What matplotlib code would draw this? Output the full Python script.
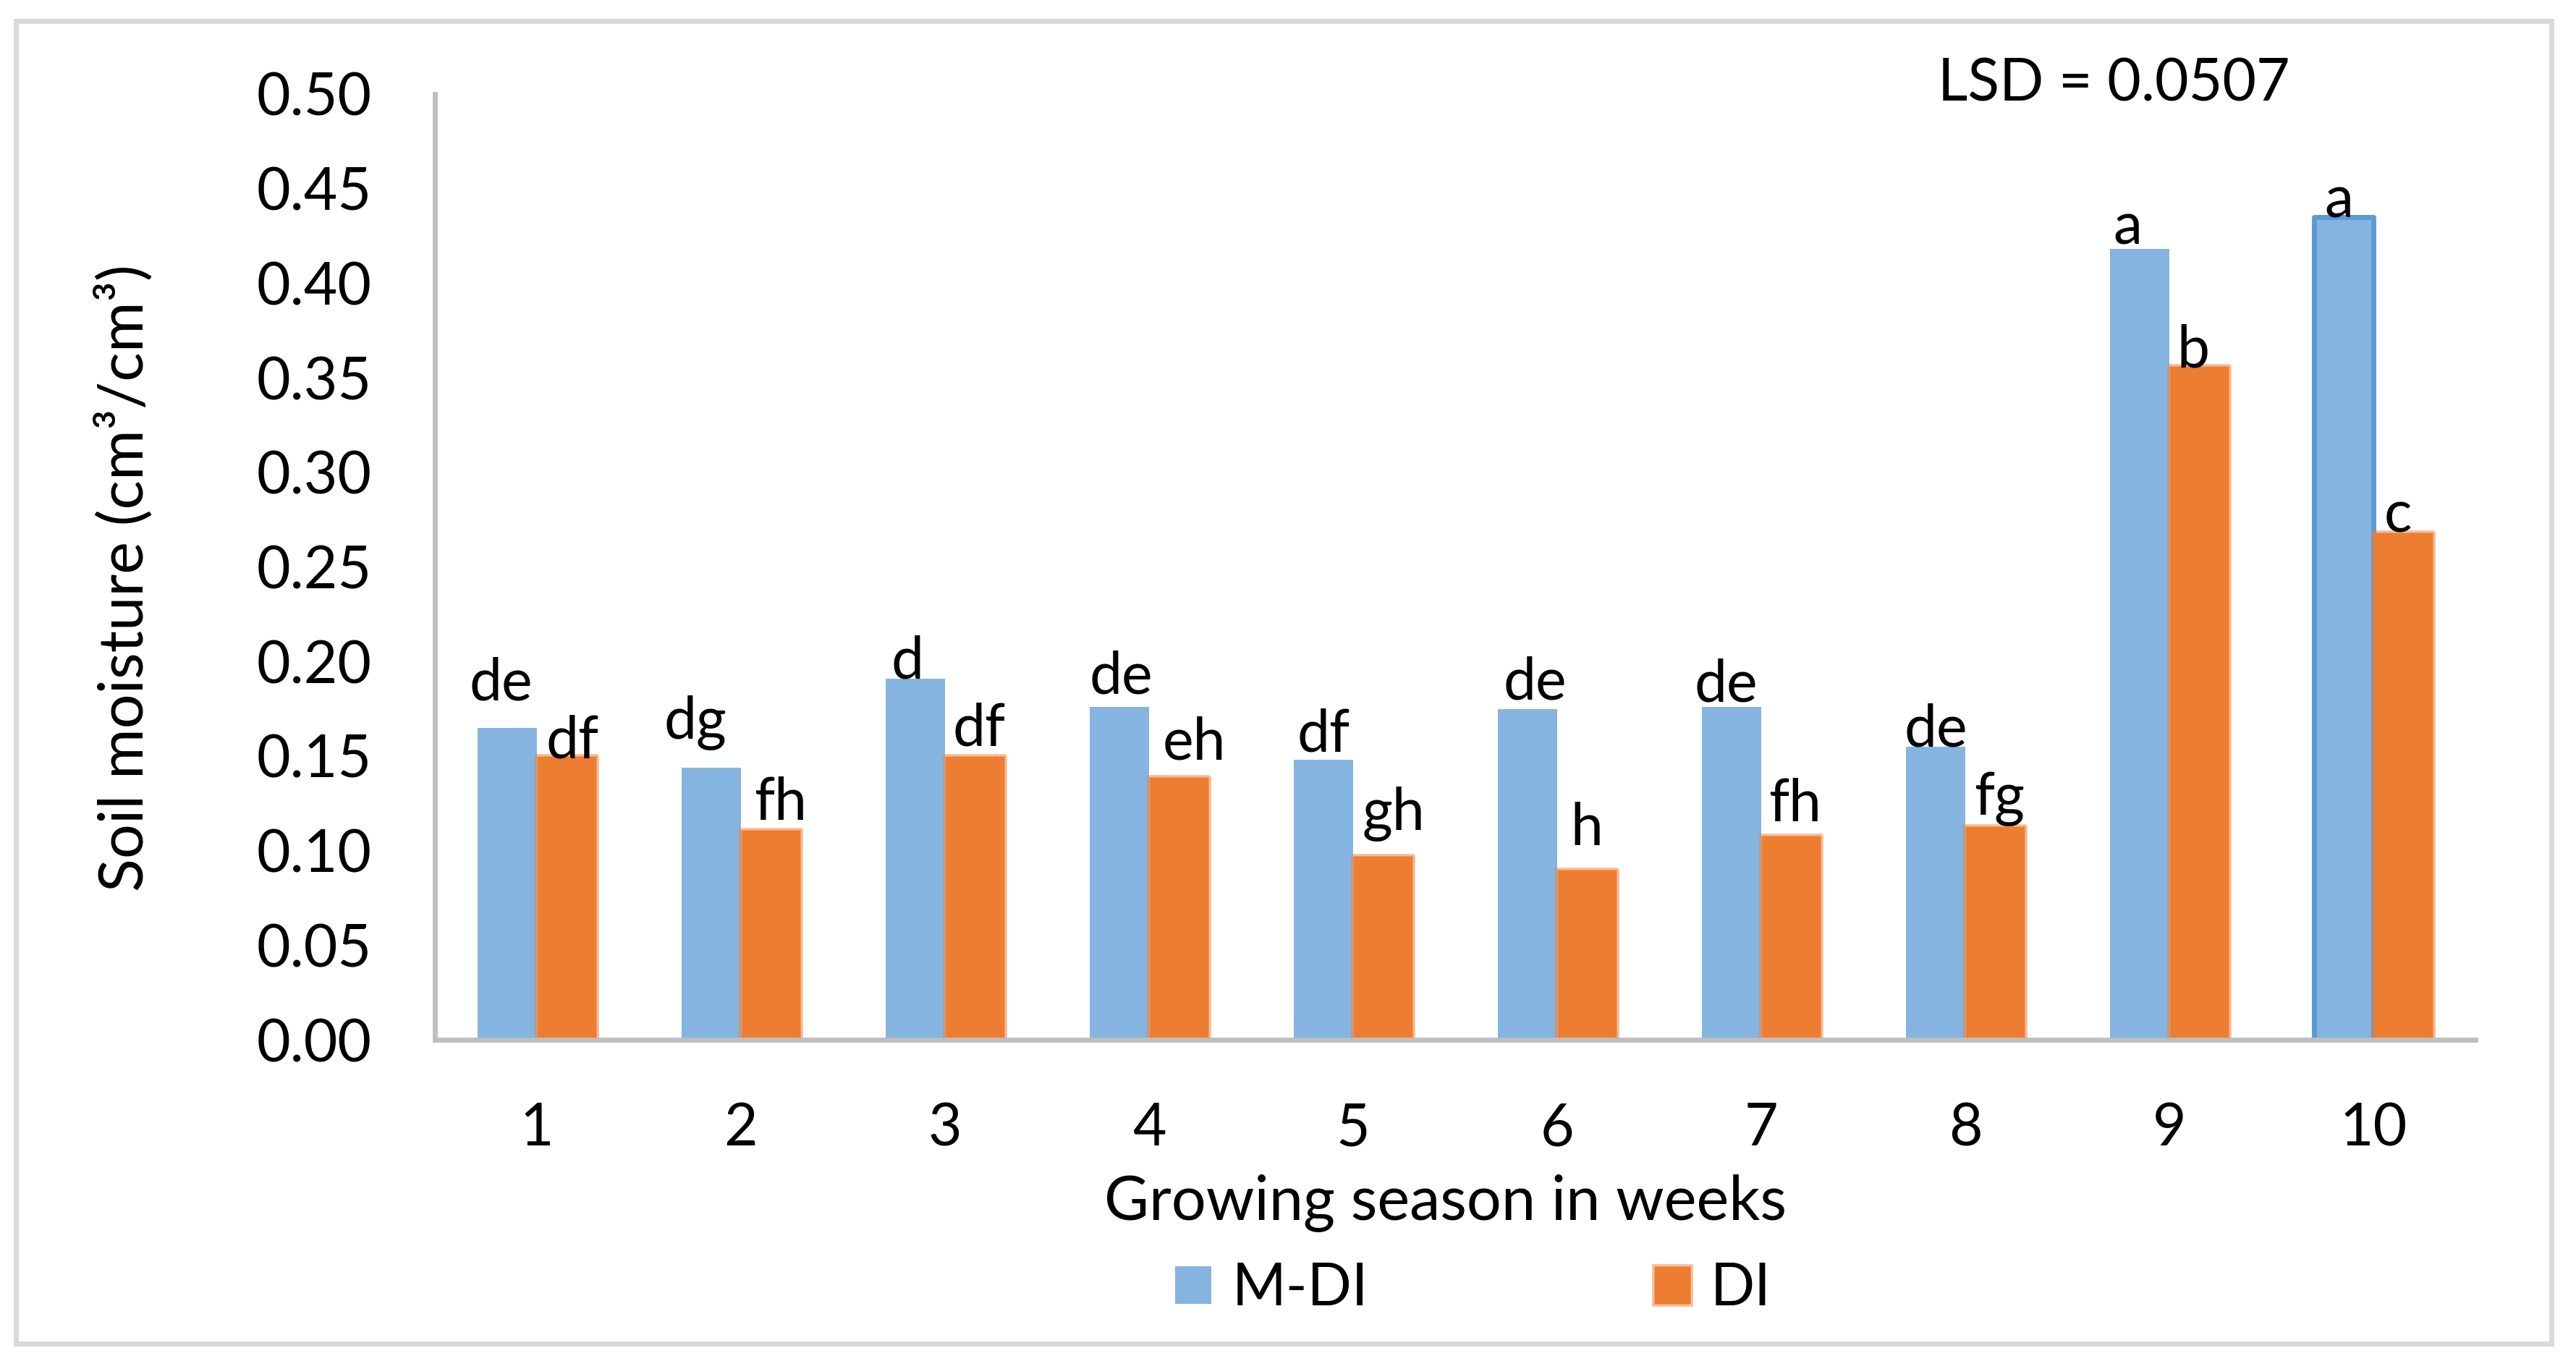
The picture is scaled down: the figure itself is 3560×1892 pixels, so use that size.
import matplotlib
matplotlib.use("Agg")
import matplotlib.pyplot as plt
from matplotlib.patches import Rectangle
import numpy as np

# ---- data ----
weeks = ["1", "2", "3", "4", "5", "6", "7", "8", "9", "10"]
mdi = [0.165, 0.144, 0.191, 0.176, 0.148, 0.175, 0.176, 0.155, 0.418, 0.435]
di = [0.150, 0.111, 0.150, 0.139, 0.097, 0.090, 0.108, 0.113, 0.356, 0.268]
mdi_letters = ["de", "dg", "d", "de", "df", "de", "de", "de", "a", "a"]
di_letters = ["df", "fh", "df", "eh", "gh", "h", "fh", "fg", "b", "c"]
yticks = [0.00, 0.05, 0.10, 0.15, 0.20, 0.25, 0.30, 0.35, 0.40, 0.45, 0.50]

# label nudges (pixels): horizontal shift, baseline height above bar top
mdi_dx = [-9, -22, -11, 2, 0, 10, -8, 0, -17, -7]
mdi_dy = [38, 40, 0, 18, 12, 13, 7, 0, 7, -1]
di_dx = [8, 14, 6, 21, 15, 0, 6, 6, -8, -7]
di_dy = [-3, 14, 14, 24, 36, 34, 20, 16, -1, 1]

plt.rcParams["font.family"] = ["Lato", "DejaVu Sans"]
FS = 29
FS_LAB = 30.5
DPI = 200
W, H = 3560, 1892

fig = plt.figure(figsize=(W / DPI, H / DPI), dpi=DPI)
ax = fig.add_axes([601 / W, 1 - 1437 / H, (3421 - 601) / W, (1437 - 130) / H])

blue = "#85B4E0"
orange = "#ED7D31"
x = np.arange(len(weeks))
bw = 0.29
off = 0.145

b1 = ax.bar(x - off, mdi, bw, color=blue, linewidth=0, label="M-DI", zorder=1)
# last M-DI bar is outlined (selected look)
b1[-1].set_edgecolor("#5B9BD5")
b1[-1].set_linewidth(2.5)
b2 = ax.bar(x + off, di, bw, color=orange, edgecolor=(0.93, 0.49, 0.19, 0.5),
            linewidth=2.4, label="DI", zorder=1)
for r in list(b1) + list(b2):
    r.set_joinstyle("round")
    r.set_clip_on(False)

for i in range(len(weeks)):
    ax.annotate(mdi_letters[i], xy=(x[i] - off, mdi[i]), xytext=(mdi_dx[i], mdi_dy[i]),
                textcoords="offset pixels", ha="center", va="baseline", fontsize=FS, zorder=5)
    ax.annotate(di_letters[i], xy=(x[i] + off, di[i]), xytext=(di_dx[i], di_dy[i]),
                textcoords="offset pixels", ha="center", va="baseline", fontsize=FS, zorder=5)

ax.set_xlim(-0.5, len(weeks) - 0.5)
ax.set_ylim(0, 0.5)
ax.set_xticks(x)
ax.set_xticklabels(weeks)
ax.set_yticks(yticks)
ax.set_yticklabels([f"{v:.2f}" for v in yticks])
ax.tick_params(axis="both", length=0, labelsize=FS)
ax.tick_params(axis="y", pad=31.5)
ax.tick_params(axis="x", pad=31)
for s in ["top", "right"]:
    ax.spines[s].set_visible(False)
for s in ["left", "bottom"]:
    ax.spines[s].set_color("#BFBFBF")
    ax.spines[s].set_linewidth(2.5)
    ax.spines[s].set_zorder(3)

fig.text(1997 / W, 1 - 1662 / H, "Growing season in weeks", ha="center", va="center", fontsize=FS_LAB)
fig.text(172 / W, 1 - 799 / H, "Soil moisture (cm\u00b3/cm\u00b3)", ha="center", va="center",
         rotation=90, fontsize=FS_LAB)
fig.text(2921 / W, 1 - 116 / H, "LSD = 0.0507", ha="center", va="center", fontsize=FS)

leg = fig.legend(handles=[b1[0], b2[0]], labels=["M-DI", "DI"], loc="center",
                 bbox_to_anchor=(2036 / W, 1 - 1781 / H), ncol=2, frameon=False,
                 fontsize=FS, handlelength=0.62, handleheight=0.62, handletextpad=0.35,
                 columnspacing=4.9, borderpad=0)

fig.patches.append(Rectangle((22 / W, 1 - 1857 / H), (3526 - 22) / W, (1857 - 29) / H,
                             transform=fig.transFigure, fill=False, edgecolor="#D9D9D9",
                             linewidth=2.5, zorder=0))

fig.savefig("out.png", dpi=DPI, facecolor="white")
